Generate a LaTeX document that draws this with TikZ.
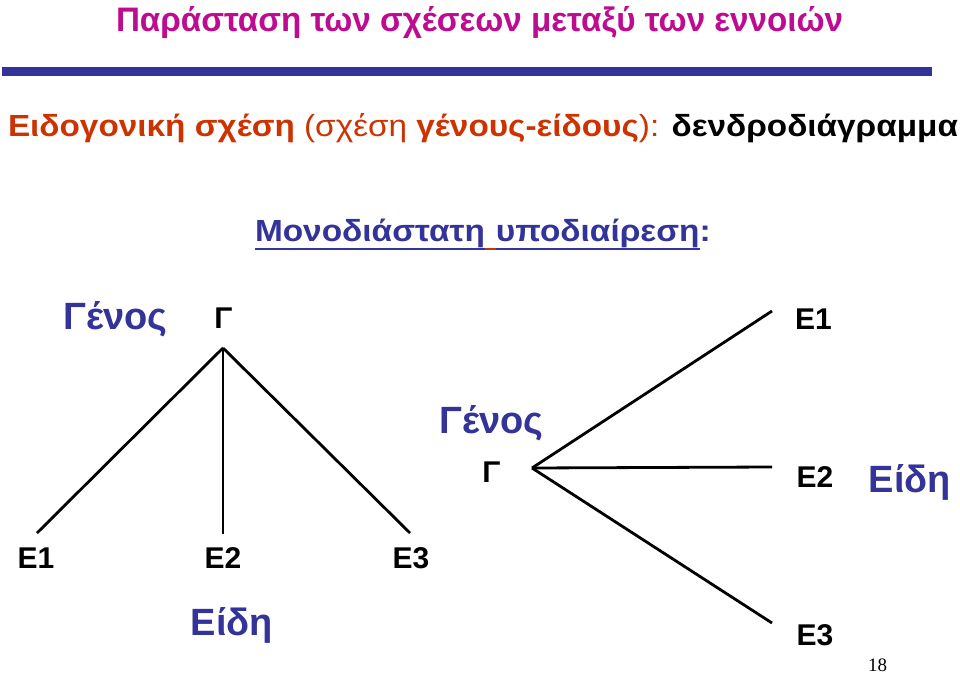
\documentclass[tikz,border=0pt]{standalone}
\usepackage{fontspec}
\setmainfont{Liberation Sans}
\newfontfamily\pagenumfont{Liberation Serif}
\usepackage{graphicx}
\definecolor{titlemag}{RGB}{190,12,145}
\definecolor{navy}{RGB}{51,51,153}
\definecolor{rust}{RGB}{204,51,0}
\newcommand\mscale{1.095}
\tikzset{
  txt/.style={inner sep=0pt, outer sep=0pt, anchor=base west},
  lbl/.style={inner sep=0pt, outer sep=0pt, anchor=base, font=\fontsize{30}{30}\selectfont\bfseries},
  bigword/.style={inner sep=0pt, outer sep=0pt, anchor=base, text=navy, font=\fontsize{38}{38}\selectfont\bfseries},
  branch/.style={line width=2.8pt, black},
  uline/.style={line width=2pt},
}
\begin{document}
\begin{tikzpicture}[x=1pt,y=-1pt]
\useasboundingbox[fill=white] (0,0) rectangle (960,676);

% title
\node[txt] (title) at (116,32) {\resizebox{727pt}{\height}{\color{titlemag}\bfseries\fontsize{34}{34}\selectfont Παράσταση των σχέσεων μεταξύ των εννοιών}};
% bar
\fill[navy] (2,67) rectangle (932,76);
% subtitle
\node[txt] (sub) at (8,137) {\resizebox{950pt}{\height}{\fontsize{30.5}{30}\selectfont\textcolor{rust}{\bfseries Ειδογονική σχέση} \textcolor{rust}{(σχέση \textbf{γένους-είδους}):} \textbf{δενδροδιάγραμμα}}};

% heading with underline
\node[txt, text=navy, font=\fontsize{30.5}{30}\selectfont\bfseries] (m1) at (255,242) {\scalebox{\mscale}[1]{Μονοδιάστατη}};
\node[txt, text=navy, font=\fontsize{30.5}{30}\selectfont\bfseries] (m2) at ([xshift=11pt]m1.base east) {\scalebox{\mscale}[1]{υποδιαίρεση}};
\node[txt, text=navy, font=\fontsize{30.5}{30}\selectfont\bfseries] (m3) at (m2.base east) {\scalebox{\mscale}[1]{:}};
\draw[uline, navy] ([yshift=-7pt]m1.base west) -- ([yshift=-7pt]m1.base east);
\draw[uline, rust] ([yshift=-7pt]m1.base east) -- ([yshift=-7pt]m2.base west);
\draw[uline, navy] ([yshift=-7pt]m2.base west) -- ([yshift=-7pt]m2.base east);

% left tree
\node[bigword] (lgenos) at (115.5,329) {Γένος};
\node[lbl] (lg) at (223.5,328) {Γ};
\coordinate (la) at (223,348);
\coordinate (le1) at (37,533);
\coordinate (le2) at (223,534);
\coordinate (le3) at (410,533);
\draw[branch] (la) -- (le1);
\draw[branch] (la) -- (le2);
\draw[branch] (la) -- (le3);
\node[lbl] (lE1) at (36,568) {E1};
\node[lbl] (lE2) at (223,568) {E2};
\node[lbl] (lE3) at (411,568) {E3};
\node[bigword] (leidi) at (232,635) {Είδη};

% right tree
\node[bigword] (rgenos) at (491.5,433) {Γένος};
\node[lbl] (rg) at (491.5,482) {Γ};
\coordinate (ra) at (532,468);
\coordinate (re1) at (772,311);
\coordinate (re2) at (772,467);
\coordinate (re3) at (772,623);
\draw[branch] (ra) -- (re1);
\draw[branch] (ra) -- (re2);
\draw[branch] (ra) -- (re3);
\node[lbl] (rE1) at (813.5,329) {E1};
\node[lbl] (rE2) at (815,487) {E2};
\node[lbl] (rE3) at (815,645) {E3};
\node[bigword] (reidi) at (910,492) {Είδη};

% page number
\node[inner sep=0pt, anchor=base, font=\pagenumfont\fontsize{19}{19}\selectfont] (pnum) at (877.5,671) {18};
\end{tikzpicture}
\end{document}
